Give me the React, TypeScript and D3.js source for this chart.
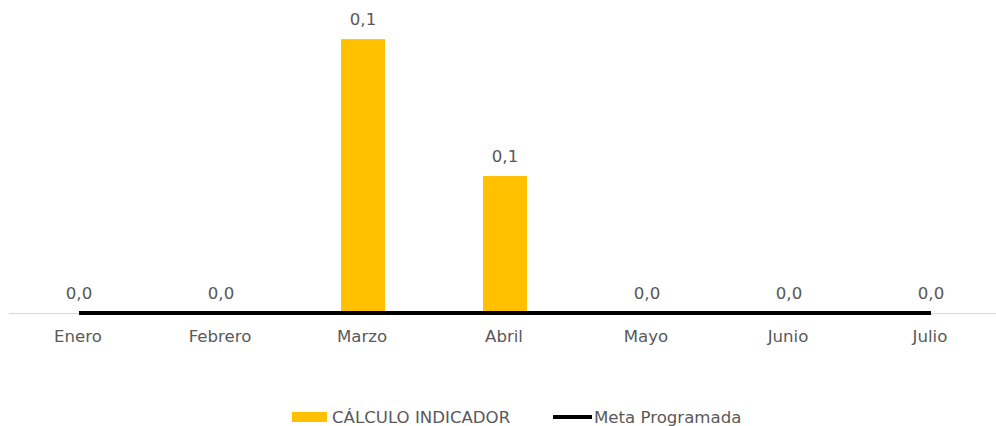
import React, { useEffect, useRef } from "react";
import * as d3 from "d3";

const meses = ["Enero", "Febrero", "Marzo", "Abril", "Mayo", "Junio", "Julio"];
const calculoIndicador = [0, 0, 0.14, 0.07, 0, 0, 0];
const metaProgramada = [0, 0, 0, 0, 0, 0, 0];

const W = 996;
const H = 426;

const App = () => {
  const ref = useRef<SVGSVGElement>(null);

  useEffect(() => {
    const svg = d3.select(ref.current);
    svg.selectAll("*").remove();

    const font = "'DejaVu Sans', Verdana, sans-serif";
    const txt = "#595959";
    const fs = 16.6;

    const x = d3.scalePoint().domain(meses).range([79, 931]);
    const barW = 44;
    const y = d3.scaleLinear().domain([0, 0.16]).range([313, 0]);
    const fmt = (v: number) => d3.format(".1f")(v).replace(".", ",");

    // axis line
    svg.append("line")
      .attr("x1", 9).attr("x2", W)
      .attr("y1", y(0) + 0.5).attr("y2", y(0) + 0.5)
      .attr("stroke", "#d9d9d9").attr("stroke-width", 1);

    // bars
    svg.selectAll(".bar")
      .data(calculoIndicador)
      .enter()
      .append("rect")
      .attr("class", "bar")
      .attr("x", (d, i) => x(meses[i])! - barW / 2)
      .attr("y", d => y(d))
      .attr("width", barW)
      .attr("height", d => y(0) - y(d))
      .attr("fill", "#ffc000");

    // meta line
    const line = d3.line<number>()
      .x((d, i) => x(meses[i])!)
      .y(d => y(d));
    svg.append("path")
      .datum(metaProgramada)
      .attr("d", line)
      .attr("fill", "none")
      .attr("stroke", "#000")
      .attr("stroke-width", 4);

    // value labels
    svg.selectAll(".lbl")
      .data(calculoIndicador)
      .enter()
      .append("text")
      .attr("class", "lbl")
      .attr("x", (d, i) => x(meses[i])!)
      .attr("y", d => y(d) - 14)
      .attr("text-anchor", "middle")
      .attr("font-family", font)
      .attr("font-size", fs)
      .attr("fill", txt)
      .text(d => fmt(d));

    // category labels
    svg.selectAll(".cat")
      .data(meses)
      .enter()
      .append("text")
      .attr("class", "cat")
      .attr("x", d => x(d)! - 1)
      .attr("y", 342)
      .attr("text-anchor", "middle")
      .attr("font-family", font)
      .attr("font-size", fs)
      .attr("fill", txt)
      .text(d => d);

    // legend
    const legend = svg.append("g");
    legend.append("rect")
      .attr("x", 292).attr("y", 412)
      .attr("width", 35).attr("height", 10)
      .attr("fill", "#ffc000");
    legend.append("text")
      .attr("x", 332).attr("y", 423)
      .attr("font-family", font).attr("font-size", fs).attr("fill", txt)
      .text("CÁLCULO INDICADOR");
    legend.append("line")
      .attr("x1", 553).attr("x2", 592)
      .attr("y1", 417).attr("y2", 417)
      .attr("stroke", "#000").attr("stroke-width", 4);
    legend.append("text")
      .attr("x", 594).attr("y", 423)
      .attr("font-family", font).attr("font-size", fs).attr("fill", txt)
      .text("Meta Programada");
  }, []);

  return (
    <svg
      ref={ref}
      width={W}
      height={H}
      style={{ position: "absolute", left: 0, top: 0, background: "#fff" }}
    ></svg>
  );
};

export default App;
